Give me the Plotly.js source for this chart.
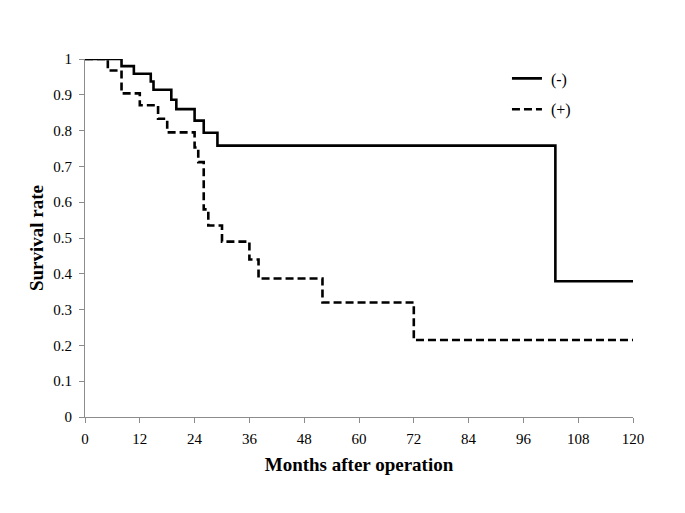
<!DOCTYPE html>
<html><head><meta charset="utf-8">
<script src="https://cdn.plot.ly/plotly-3.0.1.min.js"></script>
<style>body{margin:0;background:#fff}#c{width:685px;height:513px}</style>
</head><body><div id="c"></div>
<script>
var negMonths = [0, 8, 10.7, 14.4, 15, 18.9, 20, 24, 26, 29, 103, 120];
var negSurv   = [1, 0.98, 0.959, 0.937, 0.914, 0.886, 0.86, 0.828, 0.794, 0.758, 0.379, 0.379];
var posMonths = [0, 5, 8, 12, 16, 18, 24, 24.8, 26, 27, 30, 36, 38, 52, 72, 120];
var posSurv   = [1, 0.968, 0.904, 0.871, 0.833, 0.795, 0.753, 0.712, 0.58, 0.535, 0.49, 0.44, 0.387, 0.32, 0.215, 0.215];
var xTicks = [0, 12, 24, 36, 48, 60, 72, 84, 96, 108, 120];
var yTicks = [0, 0.1, 0.2, 0.3, 0.4, 0.5, 0.6, 0.7, 0.8, 0.9, 1];

var serif = '"Liberation Serif", "Times New Roman", serif';
var traces = [
  {x: negMonths, y: negSurv, mode: 'lines', line: {shape: 'hv', color: '#000', width: 2.6}, name: '\u00a0(-)', legendgroup: 'a'},
  {x: posMonths, y: posSurv, mode: 'lines', line: {shape: 'hv', color: '#000', width: 2.6, dash: '8px,4px'}, name: '\u00a0(+)', legendgroup: 'b'}
];
var axisCommon = {
  showgrid: false, zeroline: false, showline: true, linecolor: '#8c8c8c', linewidth: 1,
  ticks: 'outside', ticklen: 5, tickcolor: '#8c8c8c', tickwidth: 1,
  tickfont: {family: serif, size: 15, color: '#000'}
};
var layout = {
  width: 685, height: 513,
  margin: {l: 85, r: 52, t: 59, b: 96},
  paper_bgcolor: '#fff', plot_bgcolor: '#fff',
  showlegend: true,
  legend: {x: 0.77, y: 0.993, xanchor: 'left', yanchor: 'top', tracegroupgap: 7,
           font: {family: serif, size: 16, color: '#000'}, bgcolor: 'rgba(0,0,0,0)'},
  xaxis: Object.assign({}, axisCommon, {range: [0, 120], tickvals: xTicks, ticktext: xTicks.map(String),
    ticklabelstandoff: 3,
    title: {text: 'Months after operation', font: {family: serif, size: 19, color: '#000', weight: 'bold'}, standoff: 11}}),
  yaxis: Object.assign({}, axisCommon, {range: [0, 1], tickvals: yTicks, ticktext: yTicks.map(String),
    ticklabelstandoff: 4,
    title: {text: 'Survival rate', font: {family: serif, size: 19, color: '#000', weight: 'bold'}, standoff: 4}})
};
Plotly.newPlot('c', traces, layout, {displayModeBar: false, staticPlot: true});
</script></body></html>
